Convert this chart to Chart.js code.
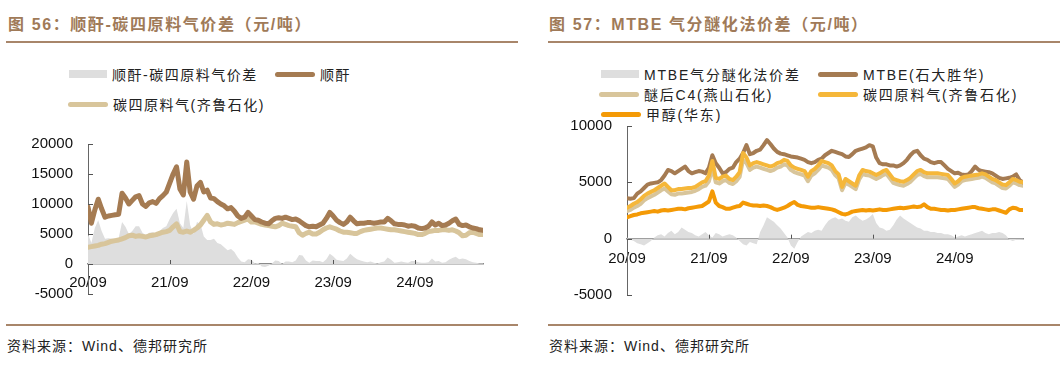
<!DOCTYPE html>
<html>
<head>
<meta charset="utf-8">
<script src="https://cdn.jsdelivr.net/npm/chart.js@4.4.0/dist/chart.umd.min.js"></script>
<style>
  body { margin: 0; width: 1063px; height: 367px; background: #fff; position: relative; overflow: hidden;
         font-family: "Liberation Sans", "Noto Sans CJK SC", sans-serif; }
  .title { position: absolute; top: 11px; font-size: 16px; font-weight: bold; color: #a07a58; letter-spacing: 1.6px; white-space: nowrap; }
  .rule { position: absolute; height: 2px; background: #a8866a; }
  .src { position: absolute; top: 335px; font-size: 14px; color: #222; letter-spacing: 1px; font-family: "Liberation Sans", "Noto Sans CJK SC"; }
  .lg { position: absolute; font-size: 14px; color: #222; white-space: nowrap; display: flex; align-items: center;
        height: 20px; margin-top: -10px; font-family: "Liberation Sans", "Noto Sans CJK SC"; }
  .lg i { display: inline-block; margin-right: 5px; }
  canvas { position: absolute; }
</style>
</head>
<body>
<div class="title" style="left:8px">图 56：顺酐-碳四原料气价差（元/吨）</div>
<div class="title" style="left:549px">图 57：MTBE 气分醚化法价差（元/吨）</div>
<div class="rule" style="left:6px;width:512px;top:41px"></div>
<div class="rule" style="left:548px;width:512px;top:41px"></div>
<div class="rule" style="left:6px;width:512px;top:324px"></div>
<div class="rule" style="left:548px;width:512px;top:324px"></div>
<div class="src" style="left:7px">资料来源：Wind、德邦研究所</div>
<div class="src" style="left:549px">资料来源：Wind、德邦研究所</div>
<div id="legendL"></div>
<div id="legendR"></div>
<canvas id="chartL" width="530" height="198" style="left:0;top:120px"></canvas>
<canvas id="chartR" width="523" height="217" style="left:540px;top:102px"></canvas>
<script>
// 半月一个点，2020/09 起
const spreadMA = [5000,3500,6000,7300,5500,4200,4300,4200,4200,4300,7000,6200,5000,5500,6300,6300,5200,4800,5200,5300,5000,5500,6000,6300,7500,8500,9200,6800,6000,10500,6500,5000,7000,6700,4600,4000,4000,4200,3500,3300,2800,2300,2500,2000,1100,400,300,800,700,100,200,-400,-500,-300,100,600,500,0,400,400,300,600,1500,1400,600,200,600,500,500,300,800,1700,1300,700,600,500,900,1700,1200,800,600,400,300,400,200,100,300,400,1100,700,200,300,400,300,200,500,500,300,200,200,300,900,400,500,200,300,700,1000,1200,800,900,800,500,300,200,100,100];
const maPrice = [9500,6800,9000,10800,9200,7800,8000,8100,8200,8300,11800,11000,10000,10600,11200,11400,10000,9600,10200,10400,10100,10900,11400,12000,13500,15000,16200,12500,11500,17000,12000,10800,13000,13600,12000,12300,11000,10900,10400,10000,9700,9200,9400,8800,8000,7600,7800,8600,8000,7400,7300,7000,6800,6700,7200,7600,7700,7600,7800,7600,7400,7500,7200,6800,6400,6200,6300,6200,6500,6800,7600,8600,8000,7300,6900,6600,7000,7800,7200,6700,6800,6800,6900,6900,6800,6900,7000,7000,7600,7200,6700,6600,6600,6500,6300,6400,6300,6000,5900,6000,6300,7000,6500,6800,6400,6500,6800,7200,7500,6600,6400,6500,6200,6000,5900,5700,5600];
const c4Qilu = [2800,2900,3000,3100,3300,3400,3600,3800,3900,4000,4200,4400,4700,4800,4600,4700,4600,4500,4700,4800,4900,5100,5300,5400,5600,6200,6700,5400,5300,5500,5300,5600,6000,6500,7300,8100,7000,6600,6700,6500,6600,6800,6700,6600,6900,7100,7300,7500,7000,7000,6800,6600,6500,6400,6300,6200,6400,6800,6600,6400,6300,6200,5200,4800,5100,5300,5000,5000,5300,5700,6000,6200,6000,5800,5500,5300,5300,5200,5100,5100,5400,5600,5700,5800,5900,6000,6000,5900,5800,5700,5700,5600,5500,5400,5300,5200,5100,4900,4900,5100,5400,5500,5600,5600,5700,5700,5600,5700,5500,5200,4700,4800,5200,5300,5100,4900,4900];

const spreadMTBE = [100,-100,-200,-400,-500,-600,-400,-200,100,300,400,200,500,700,400,600,1000,800,600,500,300,200,400,600,300,100,500,400,200,300,400,300,100,-200,-500,-600,-300,-400,-500,600,1200,1900,1700,1500,1200,900,500,100,-600,-900,-300,200,400,600,500,700,800,700,1200,1600,1800,1900,1700,1800,1600,1500,1900,2050,1800,1600,1700,1900,2200,1400,1000,900,700,800,1200,1700,2050,1800,1600,1400,1200,1000,900,700,700,600,600,500,500,400,400,300,100,200,300,200,300,400,500,600,700,500,400,500,500,600,500,300,-100,-200,-100,-100,-50];
const mtbePrice = [3600,3550,3600,4000,4200,4500,4800,4900,4950,5000,5200,5600,6100,6000,5800,6000,6200,6400,6000,5800,5900,6000,5950,5800,6300,7400,6700,6300,5800,5900,6200,6300,6800,7100,7600,8300,7500,7600,7800,7900,8300,8750,8400,8000,7700,7550,7500,7400,7300,7250,7200,7100,7000,6800,6700,6800,7000,7100,7400,7600,7800,7700,7600,7500,7300,7250,7500,7800,7900,8000,8100,8300,8200,7200,6700,6600,6600,6500,6500,6400,6500,6700,7000,7400,7700,7800,7400,7100,7000,6800,6700,6800,6800,6500,6200,6000,5800,5850,5700,5650,5700,6000,6400,6100,6000,5950,5900,5800,5600,5400,5300,5350,5400,5500,5700,5200,5000];
const c4Yanshan = [2450,2550,2750,2900,3100,3400,3600,3750,3900,4100,4300,4450,4200,3950,3900,4000,4000,4050,4100,4150,4250,4400,4600,4700,5100,6300,5000,4900,5100,5200,4950,4850,5100,5500,7000,6700,6100,6300,6400,6300,6200,6100,6000,6100,6300,6400,6600,6500,6100,5900,5800,5700,5600,5100,5600,5800,6100,6500,6400,6300,6100,5650,5350,4300,4950,4800,4600,4400,5250,5750,5650,5600,5450,5300,5450,5650,5750,5350,4950,4850,4750,4700,4850,5050,5350,5650,5750,5550,5450,5450,5450,5450,5400,5350,5300,4950,4600,4800,5100,5200,5250,5300,5350,5400,5500,5400,5200,5000,4900,4700,4500,4450,4700,5000,4900,4750,4700];
const c4QiluR = [2750,2900,3100,3250,3500,3800,4000,4150,4300,4500,4700,4900,4600,4300,4300,4400,4400,4450,4500,4500,4600,4800,5000,5100,5600,6900,5400,5300,5500,5600,5300,5200,5500,5900,7600,7200,6500,6700,6800,6700,6600,6500,6400,6500,6700,6800,7000,6900,6500,6300,6200,6100,6000,5500,6000,6200,6500,6900,6800,6700,6500,6000,5700,4600,5300,5100,4900,4700,5600,6100,6000,5950,5800,5650,5800,6000,6100,5700,5300,5200,5100,5050,5200,5400,5700,6000,6100,5900,5800,5800,5800,5800,5750,5700,5650,5300,4900,5100,5400,5500,5550,5600,5650,5700,5800,5700,5500,5300,5200,5000,4800,4750,5000,5300,5200,5050,5000];
const methanol = [1900,2000,2100,2150,2250,2300,2350,2400,2450,2400,2500,2550,2500,2550,2600,2650,2650,2600,2700,2750,2800,2850,2900,3100,3300,4200,3200,2900,2800,2650,2650,2750,2850,2900,3200,3100,3000,2950,2950,2900,2950,2900,2800,2650,2550,2650,2750,2900,3100,3250,3000,2900,2850,2800,2750,2750,2800,2750,2700,2650,2600,2500,2350,2200,2150,2250,2400,2450,2500,2550,2500,2550,2500,2550,2600,2550,2550,2600,2650,2700,2750,2700,2750,2800,2850,2800,2850,3050,2800,2650,2650,2600,2550,2550,2500,2550,2550,2600,2650,2700,2750,2800,2800,2700,2650,2600,2550,2600,2600,2500,2400,2300,2600,2750,2700,2550,2550];

const yearTicks = ['20/09', '21/09', '22/09', '23/09', '24/09'];

const pts = arr => arr.map((v, i) => ({ x: i * 0.5, y: v }));

const innerTicks = {
  id: 'innerTicks',
  afterDraw(chart) {
    const { ctx, scales: { x, y } } = chart;
    const y0 = y.getPixelForValue(0);
    ctx.save();
    ctx.strokeStyle = '#555';
    ctx.lineWidth = 1;
    ctx.beginPath();
    x.ticks.forEach(t => {
      if (t.value % 12 === 0 && t.value > 0) {
        const px = Math.round(x.getPixelForValue(t.value)) + 0.5;
        ctx.moveTo(px, y0);
        ctx.lineTo(px, y0 - 4);
      }
    });
    y.ticks.forEach(t => {
      const py = Math.round(y.getPixelForValue(t.value)) + 0.5;
      ctx.moveTo(y.right, py);
      ctx.lineTo(y.right + 5, py);
    });
    ctx.stroke();
    ctx.restore();
  }
};

function makeOptions(cfg) {
  return {
    responsive: false,
    animation: false,
    events: [],
    layout: { padding: cfg.padding },
    plugins: { legend: { display: false }, tooltip: { enabled: false } },
    elements: { point: { radius: 0 }, line: { tension: 0, borderJoinStyle: 'round', borderCapStyle: 'round' } },
    scales: {
      x: {
        type: 'linear',
        position: { y: 0 },
        min: 0,
        max: 58,
        afterFit: s => { s.height = 0; },
        grid: { drawOnChartArea: false, drawTicks: false },
        border: { color: '#8a8a8a', width: 1.5 },
        ticks: {
          stepSize: 12,
          includeBounds: false,
          autoSkip: false,
          maxRotation: 0,
          padding: cfg.xPad,
          color: '#111',
          font: { family: 'Liberation Sans', size: 15 },
          callback: v => (v % 12 === 0 ? yearTicks[v / 12] : '')
        }
      },
      y: {
        min: cfg.yMin,
        max: cfg.yMax,
        afterFit: s => { s.width = cfg.yWidth; },
        grid: { drawOnChartArea: false, drawTicks: false },
        border: { color: '#666', width: 1 },
        ticks: {
          stepSize: 5000,
          padding: 15,
          color: '#111',
          font: { family: 'Liberation Sans', size: 15 },
          callback: v => String(v)
        }
      }
    }
  };
}

const chartL = new Chart(document.getElementById('chartL'), {
  type: 'line',
  data: {
    datasets: [
      { label: '顺酐', data: pts(maPrice), borderColor: '#a57b52', borderWidth: 5, order: 1 },
      { label: '碳四原料气(齐鲁石化)', data: pts(c4Qilu), borderColor: '#d8c59b', borderWidth: 5, order: 2 },
      { label: '顺酐-碳四原料气价差', data: pts(spreadMA), borderWidth: 0, borderColor: 'rgba(0,0,0,0)',
        backgroundColor: '#dedede', fill: 'origin', order: 3 }
    ]
  },
  options: makeOptions({ padding: { top: 12, right: 47, bottom: 7, left: 0 }, yMin: -5000, yMax: 20000, yWidth: 88, xPad: 10 }),
  plugins: [innerTicks]
});

const chartR = new Chart(document.getElementById('chartR'), {
  type: 'line',
  data: {
    datasets: [
      { label: '碳四原料气(齐鲁石化)', data: pts(c4QiluR), borderColor: '#f5b73a', borderWidth: 4, order: 1 },
      { label: 'MTBE(石大胜华)', data: pts(mtbePrice), borderColor: '#a57b52', borderWidth: 4, order: 2 },
      { label: '醚后C4(燕山石化)', data: pts(c4Yanshan), borderColor: '#d8c59b', borderWidth: 4, order: 3 },
      { label: '甲醇(华东)', data: pts(methanol), borderColor: '#f49a06', borderWidth: 4, order: 4 },
      { label: 'MTBE气分醚化法价差', data: pts(spreadMTBE), borderWidth: 0, borderColor: 'rgba(0,0,0,0)',
        backgroundColor: '#dedede', fill: 'origin', order: 5 }
    ]
  },
  options: makeOptions({ padding: { top: 12, right: 40, bottom: 6, left: 0 }, yMin: -5000, yMax: 10000, yWidth: 87, xPad: 11 }),
  plugins: [innerTicks]
});

// HTML 图例，按原图位置排布
function buildLegend(chart, el, slots) {
  chart.data.datasets.forEach((ds, i) => {
    const s = slots[ds.label];
    const item = document.createElement('div');
    item.className = 'lg';
    item.style.left = s[0] + 'px';
    item.style.top = s[1] + 'px';
    item.style.letterSpacing = s[2] + 'px';
    const sw = document.createElement('i');
    if (ds.fill) {
      sw.style.cssText = 'width:38px;height:8px;background:' + ds.backgroundColor;
    } else {
      sw.style.cssText = 'width:40px;height:5px;border-radius:3px;background:' + ds.borderColor;
    }
    item.appendChild(sw);
    item.appendChild(document.createTextNode(ds.label));
    el.appendChild(item);
  });
}

buildLegend(chartL, document.getElementById('legendL'), {
  '顺酐-碳四原料气价差': [69, 74, 1.5],
  '顺酐': [275, 74, 1.5],
  '碳四原料气(齐鲁石化)': [68, 104, 1.5]
});
buildLegend(chartR, document.getElementById('legendR'), {
  'MTBE气分醚化法价差': [601, 74, 1.8],
  'MTBE(石大胜华)': [818, 74, 1.8],
  '醚后C4(燕山石化)': [599, 94, 1.8],
  '碳四原料气(齐鲁石化)': [818, 94, 1.8],
  '甲醇(华东)': [601, 114, 1.8]
});
</script>
</body>
</html>
